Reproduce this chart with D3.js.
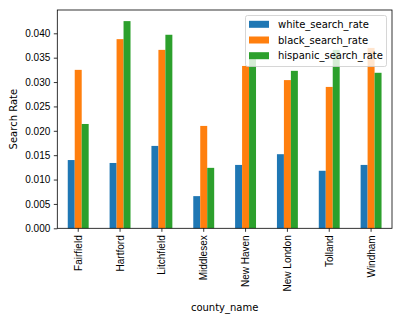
<!DOCTYPE html>
<html>
<head>
<meta charset="utf-8">
<script src="https://cdn.jsdelivr.net/npm/d3@7"></script>
<style>
  body { margin: 0; background: #fff; }
  svg { font-family: "DejaVu Sans", sans-serif; }
</style>
</head>
<body>
<div id="chart"></div>
<script>
const counties = ["Fairfield", "Hartford", "Litchfield", "Middlesex", "New Haven", "New London", "Tolland", "Windham"];
const seriesNames = ["white_search_rate", "black_search_rate", "hispanic_search_rate"];
const whiteRate = [0.0140, 0.0134, 0.0169, 0.0066, 0.0130, 0.0152, 0.0118, 0.0130];
const blackRate = [0.0325, 0.0388, 0.0366, 0.0210, 0.0333, 0.0304, 0.0290, 0.0370];
const hispanicRate = [0.0214, 0.0425, 0.0397, 0.0124, 0.0347, 0.0323, 0.0366, 0.0319];
const yTicks = [0, 0.005, 0.01, 0.015, 0.02, 0.025, 0.03, 0.035, 0.04];
const colors = ["#1f77b4", "#ff7f0e", "#2ca02c"];

const seriesValues = [whiteRate, blackRate, hispanicRate];
const data = counties.map((c, i) => ({
  county: c,
  values: seriesNames.map((s, j) => ({key: s, value: seriesValues[j][i]}))
}));

const W = 402, H = 321;
const m = {left: 57.3, right: 392, top: 10, bottom: 228.3};

const svg = d3.select("#chart").append("svg")
  .attr("width", W).attr("height", H);

const x = d3.scaleBand()
  .domain(counties)
  .range([m.left, m.right])
  .paddingInner(0.5)
  .paddingOuter(0.25);

const xs = d3.scaleBand()
  .domain(seriesNames)
  .range([0, x.bandwidth()]);

const y = d3.scaleLinear()
  .domain([0, 0.04478])
  .range([m.bottom, m.top]);

// bars
svg.append("g")
  .selectAll("g")
  .data(data)
  .enter().append("g")
  .attr("transform", d => `translate(${x(d.county)},0)`)
  .selectAll("rect")
  .data(d => d.values)
  .enter().append("rect")
  .attr("x", d => xs(d.key))
  .attr("width", xs.bandwidth())
  .attr("y", d => y(d.value))
  .attr("height", d => y(0) - y(d.value))
  .attr("fill", (d, i) => colors[i]);

// x axis
const xAxis = svg.append("g")
  .attr("transform", `translate(0,${m.bottom})`)
  .call(d3.axisBottom(x).tickSize(3.5).tickPadding(3.5));
xAxis.select(".domain").remove();
xAxis.selectAll("text")
  .attr("transform", "rotate(-90)")
  .attr("x", -7)
  .attr("y", 0)
  .attr("dy", "0.35em")
  .style("text-anchor", "end")
  .style("font-size", "10px")
  .attr("fill", "#000");

// y axis
const yAxis = svg.append("g")
  .attr("transform", `translate(${m.left},0)`)
  .call(d3.axisLeft(y).tickValues(yTicks).tickFormat(d3.format(".3f")).tickSize(3.5).tickPadding(3.5));
yAxis.select(".domain").remove();
yAxis.selectAll("text")
  .style("font-size", "10px")
  .attr("fill", "#000");

svg.selectAll(".tick line").attr("stroke", "#000").attr("stroke-width", 0.8);

// frame
svg.append("rect")
  .attr("x", m.left).attr("y", m.top)
  .attr("width", m.right - m.left).attr("height", m.bottom - m.top)
  .attr("fill", "none").attr("stroke", "#000").attr("stroke-width", 0.8);

// axis labels
svg.append("text")
  .attr("x", (m.left + m.right) / 2).attr("y", 311)
  .attr("text-anchor", "middle")
  .style("font-size", "10px")
  .text("county_name");

svg.append("text")
  .attr("transform", `translate(13,${(m.top + m.bottom) / 2}) rotate(-90)`)
  .attr("text-anchor", "middle")
  .attr("dy", "0.35em")
  .style("font-size", "10px")
  .text("Search Rate");

// legend
const legend = svg.append("g");
legend.append("rect")
  .attr("x", 245.5).attr("y", 15.5)
  .attr("width", 141).attr("height", 51)
  .attr("rx", 2)
  .attr("fill", "#fff").attr("fill-opacity", 0.8)
  .attr("stroke", "#ccc").attr("stroke-width", 0.8);

const rows = legend.selectAll("g.row")
  .data(seriesNames)
  .enter().append("g")
  .attr("class", "row")
  .attr("transform", (d, i) => `translate(249,${24.3 + i * 15.7})`);
rows.append("rect")
  .attr("x", 0).attr("y", -3.5)
  .attr("width", 20).attr("height", 7)
  .attr("fill", (d, i) => colors[i]);
rows.append("text")
  .attr("x", 29).attr("dy", "0.35em")
  .style("font-size", "10px")
  .text(d => d);
</script>
</body>
</html>
